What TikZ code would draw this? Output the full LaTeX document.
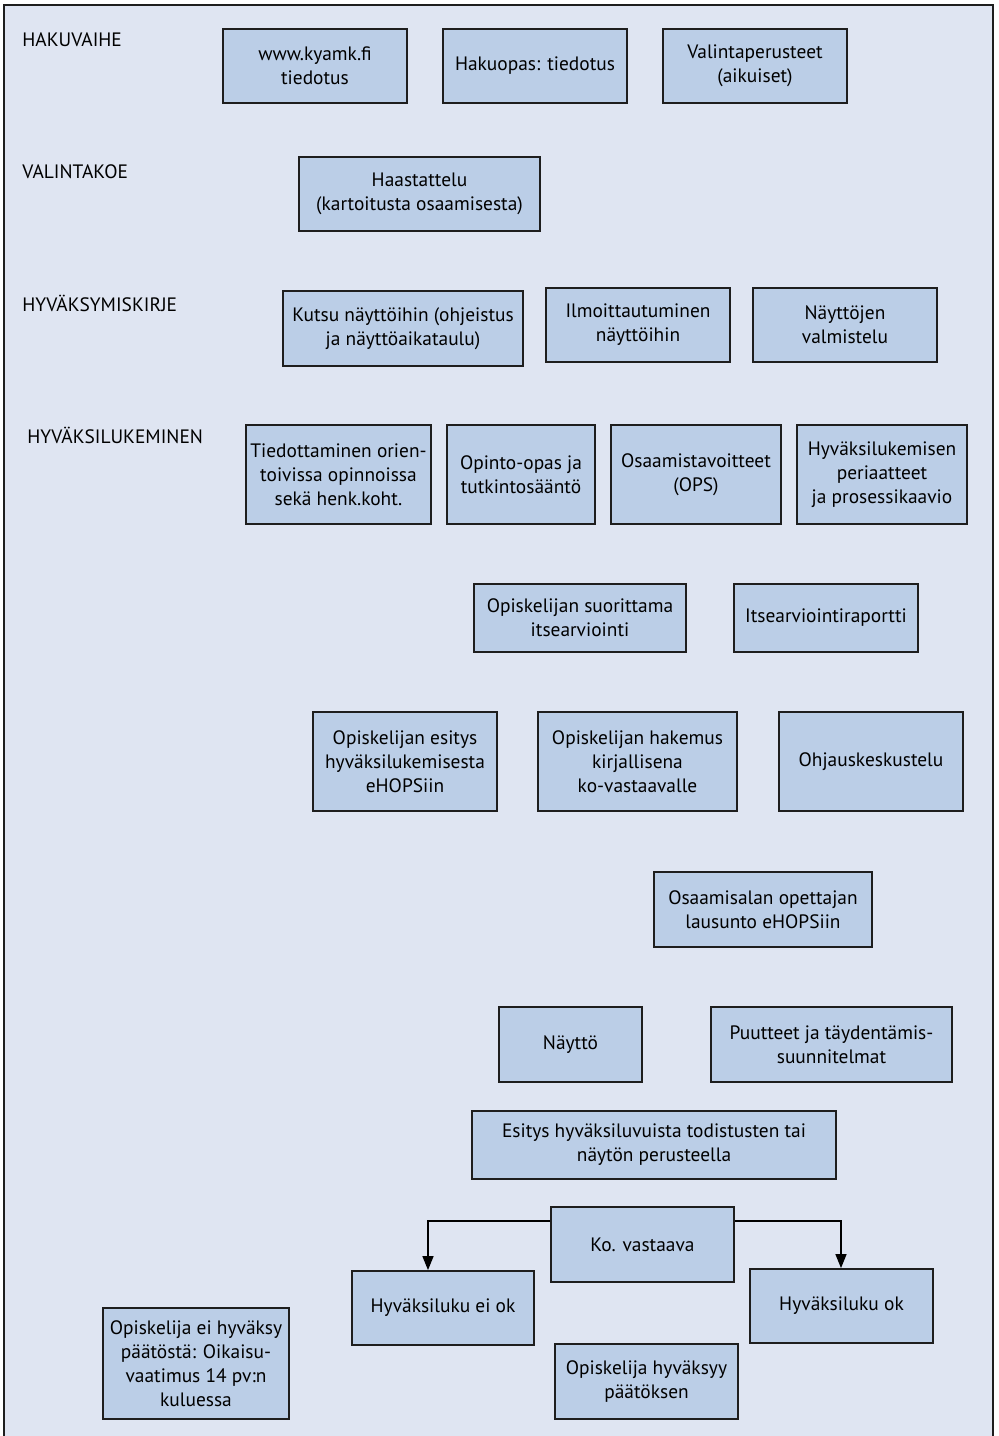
\documentclass[tikz,border=0pt]{standalone}
\usepackage{fontspec}
\setmainfont{PT Sans}
\usetikzlibrary{arrows.meta}
\definecolor{bgblue}{HTML}{DFE5F2}
\definecolor{boxblue}{HTML}{BBCEE7}
\definecolor{edgecol}{HTML}{1E1E1E}
\begin{document}
\begin{tikzpicture}[x=0.5pt,y=-0.5pt,
  box/.style={draw=edgecol, fill=boxblue, line width=0.9pt, align=center, inner sep=0pt,
    font=\fontsize{9.7}{12}\selectfont, text=black},
  lbl/.style={anchor=base west, inner sep=0pt, font=\fontsize{9.7}{12}\selectfont, text=black},
  arr/.style={draw=black, line width=0.7pt, -{Triangle[length=7pt,width=5.5pt]}}]
\useasboundingbox (0,0) rectangle (999,1436);
\fill[white] (0,0) rectangle (999,1436);
\fill[bgblue] (4,5) rectangle (992.5,1436);
\draw[line width=1pt, edgecol] (4,1436) -- (4,5) -- (992.5,5) -- (992.5,1436);

% section labels
\node[lbl] (l1) at (22,46) {HAKUVAIHE};
\node[lbl] (l2) at (22,178) {VALINTAKOE};
\node[lbl] (l3) at (22,311) {HYVÄKSYMISKIRJE};
\node[lbl] (l4) at (27,443) {HYVÄKSILUKEMINEN};

% row 1
\node[box, minimum width=92pt, minimum height=37pt] (kyamk) at (315,66) {www.kyamk.fi\\tiedotus};
\node[box, minimum width=92pt, minimum height=37pt] (hakuopas) at (535,66) {Hakuopas: tiedotus};
\node[box, minimum width=92pt, minimum height=37pt] (valinta) at (755,66) {Valintaperusteet\\(aikuiset)};

% row 2
\node[box, minimum width=120.5pt, minimum height=37pt] (haast) at (419.5,194) {Haastattelu\\(kartoitusta osaamisesta)};

% row 3
\node[box, minimum width=120pt, minimum height=37.5pt] (kutsu) at (403,328.5) {Kutsu näyttöihin (ohjeistus\\ja näyttöaikataulu)};
\node[box, minimum width=92pt, minimum height=37pt] (ilmo) at (638,325) {Ilmoittautuminen\\näyttöihin};
\node[box, minimum width=92pt, minimum height=37pt] (valm) at (845,325) {Näyttöjen\\valmistelu};

% row 4
\node[box, minimum width=92.5pt, minimum height=49.5pt] (tiedott) at (338.5,474.5) {Tiedottaminen orien-\\toivissa opinnoissa\\sekä henk.koht.};
\node[box, minimum width=74pt, minimum height=49.5pt] (opinto) at (521,474.5) {Opinto-opas ja\\tutkintosääntö};
\node[box, minimum width=85pt, minimum height=49.5pt] (osaam) at (696,474.5) {Osaamistavoitteet\\(OPS)};
\node[box, minimum width=85pt, minimum height=49.5pt] (periaat) at (882,474.5) {Hyväksilukemisen\\periaatteet\\ja prosessikaavio};

% row 5
\node[box, minimum width=106pt, minimum height=34pt] (suoritt) at (580,618) {Opiskelijan suorittama\\itsearviointi};
\node[box, minimum width=92pt, minimum height=34pt] (raportti) at (826,618) {Itsearviointiraportti};

% row 6
\node[box, minimum width=92pt, minimum height=49.5pt] (esitys) at (405,761.5) {Opiskelijan esitys\\hyväksilukemisesta\\eHOPSiin};
\node[box, minimum width=99.5pt, minimum height=49.5pt] (hakemus) at (637.5,761.5) {Opiskelijan hakemus\\kirjallisena\\ko-vastaavalle};
\node[box, minimum width=92pt, minimum height=49.5pt] (ohjaus) at (871,761.5) {Ohjauskeskustelu};

% row 7
\node[box, minimum width=109pt, minimum height=37.5pt] (lausunto) at (763,909.5) {Osaamisalan opettajan\\lausunto eHOPSiin};

% row 8
\node[box, minimum width=71.5pt, minimum height=37.5pt] (naytto) at (570.5,1044.5) {Näyttö};
\node[box, minimum width=120.5pt, minimum height=37.5pt] (puutteet) at (831.5,1044.5) {Puutteet ja täydentämis-\\suunnitelmat};

% row 9
\node[box, minimum width=182pt, minimum height=34pt] (esitysh) at (654,1145) {Esitys hyväksiluvuista todistusten tai\\näytön perusteella};

% decision
\node[box, minimum width=91.5pt, minimum height=37.5pt] (ko) at (642.5,1244.5) {Ko. vastaava};
\node[box, minimum width=91pt, minimum height=37pt] (eiok) at (443,1308) {Hyväksiluku ei ok};
\node[box, minimum width=91.5pt, minimum height=37pt] (ok) at (841.5,1306) {Hyväksiluku ok};
\node[box, minimum width=93pt, minimum height=55.5pt] (eihyv) at (196,1363.5) {Opiskelija ei hyväksy\\päätöstä: Oikaisu-\\vaatimus 14 pv:n\\kuluessa};
\node[box, minimum width=91.5pt, minimum height=37.5pt] (hyvaksyy) at (646.5,1381.5) {Opiskelija hyväksyy\\päätöksen};

% connectors
\coordinate (aL) at (428,1221);
\coordinate (aR) at (841,1221);
\draw[arr] (ko.west |- aL) -- (aL) -- (aL |- eiok.north);
\draw[arr] (ko.east |- aR) -- (aR) -- (aR |- ok.north);
\end{tikzpicture}
\end{document}
